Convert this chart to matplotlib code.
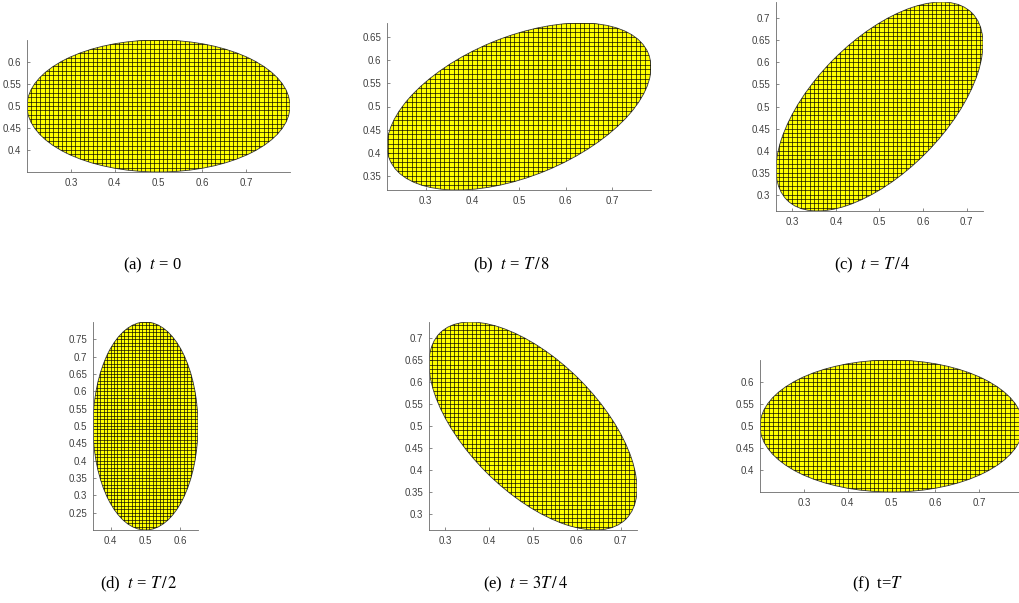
import numpy as np
import matplotlib
matplotlib.use("Agg")
import matplotlib.pyplot as plt
from matplotlib.patches import Ellipse
from matplotlib.collections import LineCollection

plt.rcParams['mathtext.fontset'] = 'stix'

# ellipse parameters (same shape, rotated by pi*t/T)
center = (0.5, 0.5)
semi_a = 0.3
semi_b = 0.15
angles = [0.0, 22.5, 45.0, 90.0, 135.0, 180.0]   # degrees
mesh_h = 0.01

captions = ["(a)  $t$ = 0", "(b)  $t$ = $T\\,/\\,8$", "(c)  $t$ = $T\\,/\\,4$",
            "(d)  $t$ = $T\\,/\\,2$", "(e)  $t$ = $3T\\,/\\,4$", "(f)  t=$T$"]

xticks = [[0.3, 0.4, 0.5, 0.6, 0.7],
          [0.3, 0.4, 0.5, 0.6, 0.7],
          [0.3, 0.4, 0.5, 0.6, 0.7],
          [0.4, 0.5, 0.6],
          [0.3, 0.4, 0.5, 0.6, 0.7],
          [0.3, 0.4, 0.5, 0.6, 0.7]]
yticks = [[0.4, 0.45, 0.5, 0.55, 0.6],
          [0.35, 0.4, 0.45, 0.5, 0.55, 0.6, 0.65],
          [0.3, 0.35, 0.4, 0.45, 0.5, 0.55, 0.6, 0.65, 0.7],
          [0.25, 0.3, 0.35, 0.4, 0.45, 0.5, 0.55, 0.6, 0.65, 0.7, 0.75],
          [0.3, 0.35, 0.4, 0.45, 0.5, 0.55, 0.6, 0.65, 0.7],
          [0.4, 0.45, 0.5, 0.55, 0.6]]

# axes boxes in pixels: left, top, right, bottom
W, H = 1019, 603
boxes = [(27, 40, 290, 172), (387, 23, 651, 190), (776, 2, 983, 211),
         (93, 322, 198, 530), (429, 322, 637, 530), (760, 360, 1023, 492)]
cap_pos = [(152, 265), (512, 265), (872, 265),
           (139, 584), (526, 584), (878, 584)]

fig = plt.figure(figsize=(W / 100, H / 100), dpi=100)

for k in range(6):
    l, t, r, b = boxes[k]
    ax = fig.add_axes([l / W, 1 - b / H, (r - l) / W, (b - t) / H])
    th = np.deg2rad(angles[k])
    hx = np.sqrt((semi_a * np.cos(th))**2 + (semi_b * np.sin(th))**2)
    hy = np.sqrt((semi_a * np.sin(th))**2 + (semi_b * np.cos(th))**2)
    x0, x1 = center[0] - hx, center[0] + hx
    y0, y1 = center[1] - hy, center[1] + hy

    ell = Ellipse(center, 2 * semi_a, 2 * semi_b, angle=angles[k],
                  facecolor='#ffff00', edgecolor='#3a3a3a', lw=0.6, zorder=1)
    ax.add_patch(ell)

    xs = np.arange(np.floor(x0 / mesh_h), np.ceil(x1 / mesh_h) + 1) * mesh_h
    ys = np.arange(np.floor(y0 / mesh_h), np.ceil(y1 / mesh_h) + 1) * mesh_h
    segs = [[(x, y0), (x, y1)] for x in xs] + [[(x0, y), (x1, y)] for y in ys]
    lc = LineCollection(segs, colors='#000000', linewidths=0.55, alpha=0.85, zorder=2)
    ax.add_collection(lc)
    lc.set_clip_path(ell)

    ax.set_xlim(x0, x1)
    ax.set_ylim(y0, y1)
    ax.set_xticks(xticks[k])
    ax.set_yticks(yticks[k])
    ax.set_xticklabels([f"{v:g}" for v in xticks[k]], family='Liberation Sans')
    ax.set_yticklabels([f"{v:g}" for v in yticks[k]], family='Liberation Sans')
    ax.tick_params(direction='in', length=2, width=0.5, labelsize=7,
                   colors='#5a5a5a', labelcolor='#404040', pad=4)
    for s in ['top', 'right']:
        ax.spines[s].set_visible(False)
    for s in ['left', 'bottom']:
        ax.spines[s].set_color('#6a6a6a')
        ax.spines[s].set_linewidth(0.6)
        ax.spines[s].set_zorder(3)

    cx, cy = cap_pos[k]
    fig.text(cx / W, 1 - cy / H, captions[k], ha='center', va='center',
             fontsize=12, family='Liberation Serif')

fig.savefig("out.png", dpi=100)
